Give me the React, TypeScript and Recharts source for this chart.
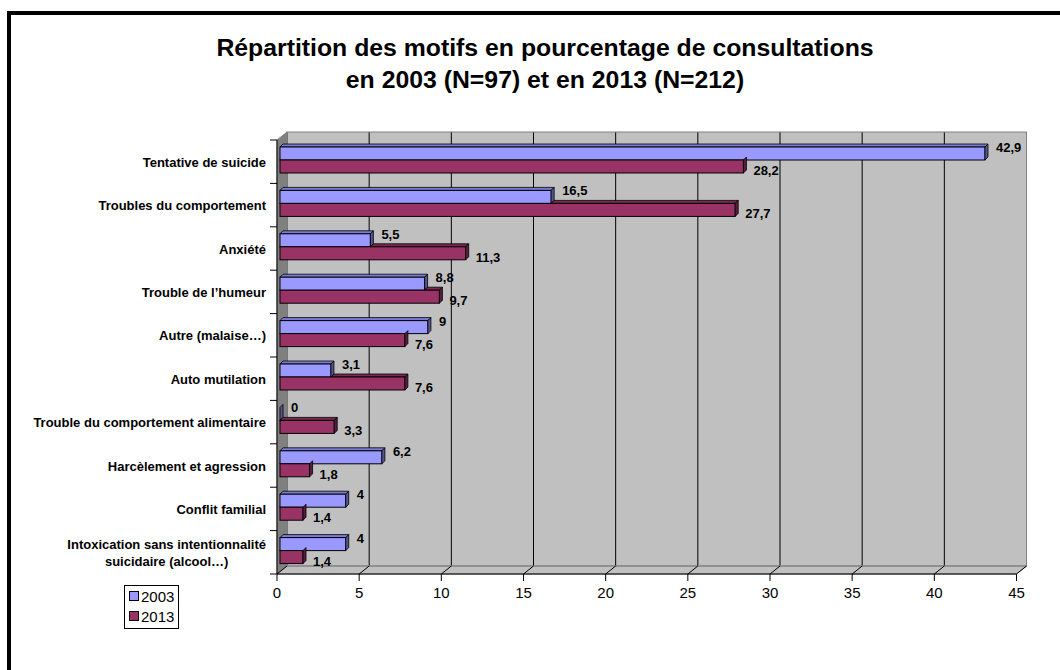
import React from "react";
import {
  BarChart,
  Bar,
  XAxis,
  YAxis,
  CartesianGrid,
  ReferenceArea,
  LabelList,
  Legend,
} from "recharts";

const categories = [
  "Tentative de suicide",
  "Troubles du comportement",
  "Anxiété",
  "Trouble de l’humeur",
  "Autre (malaise…)",
  "Auto mutilation",
  "Trouble du comportement alimentaire",
  "Harcèlement et agression",
  "Conflit familial",
  "Intoxication sans intentionnalité suicidaire (alcool…)",
];
const pct2003 = [42.9, 16.5, 5.5, 8.8, 9, 3.1, 0, 6.2, 4, 4];
const pct2013 = [28.2, 27.7, 11.3, 9.7, 7.6, 7.6, 3.3, 1.8, 1.4, 1.4];
const xTicks = [0, 5, 10, 15, 20, 25, 30, 35, 40, 45];
const seriesNames = ["2003", "2013"];

const data = categories.map((name, i) => ({
  name,
  y2003: pct2003[i],
  y2013: pct2013[i],
}));

const FONT = '"Liberation Sans", Arial, Helvetica, sans-serif';
const COLORS = ["#9999FF", "#993366"];
const TOPS = ["#7c7cd6", "#7a2952"];
const SIDES = ["#55558f", "#5a1e3c"];

// depth of the walls (back wall -> front axis)
const DX = 10;
const DY = 8;
// bars sit a bit in front of the back wall
const BAR_DX = -7;
const BAR_DY = 6;
const BAR_D = 3;

// simple greedy wrap by character count
const wrapLabel = (s: string, maxChars = 36) => {
  const lines: string[] = [];
  let cur = "";
  s.split(" ").forEach((word) => {
    const next = cur ? cur + " " + word : word;
    if (next.length > maxChars && cur) {
      lines.push(cur);
      cur = word;
    } else {
      cur = next;
    }
  });
  if (cur) lines.push(cur);
  return lines;
};

let measureCtx: CanvasRenderingContext2D | null = null;
const textWidth = (s: string) => {
  if (!measureCtx) {
    measureCtx = document.createElement("canvas").getContext("2d");
  }
  if (!measureCtx) return s.length * 6.5;
  measureCtx.font = `bold 13px ${FONT}`;
  return measureCtx.measureText(s).width;
};

const make3DBar = (idx: number) => (props: any) => {
  const { x, y, width, height, payload } = props;
  const w = Math.max(width || 0, 0);
  const h = height || 0;
  const fx = x + BAR_DX;
  const fy = y + BAR_DY;
  let start = fx;
  if (idx === 1) {
    // top face of the lower bar is hidden under the upper bar
    const own = payload.y2013;
    const other = payload.y2003;
    start = own > 0 ? fx + w * Math.min(1, other / own) : fx;
  }
  return (
    <g>
      {start < fx + w && (
        <polygon
          points={`${start},${fy} ${start + BAR_D},${fy - BAR_D} ${fx + w + BAR_D},${fy - BAR_D} ${fx + w},${fy}`}
          fill={TOPS[idx]}
          stroke="#000"
          strokeWidth={0.8}
        />
      )}
      <rect x={fx} y={fy} width={w} height={h} fill={COLORS[idx]} stroke="#000" strokeWidth={1} />
      <polygon
        points={`${fx + w},${fy} ${fx + w + BAR_D},${fy - BAR_D} ${fx + w + BAR_D},${fy + h - BAR_D} ${fx + w},${fy + h}`}
        fill={SIDES[idx]}
        stroke="#000"
        strokeWidth={0.8}
      />
    </g>
  );
};

const makeLabel = (dx: number, dy: number) => (props: any) => {
  const { x, y, width, height, value } = props;
  const tx = x + BAR_DX + (width || 0) + dx;
  const ty = y + BAR_DY + height / 2 + dy;
  return (
    <text
      x={tx}
      y={ty}
      dominantBaseline="central"
      fontSize={13}
      fontWeight="bold"
      fontFamily={FONT}
      fill="#000"
    >
      {String(value).replace(".", ",")}
    </text>
  );
};

const renderWalls = (props: any) => {
  const { x, y, width: w, height: h } = props;
  const n = categories.length;
  return (
    <g>
      {/* side wall */}
      <polygon
        points={`${x - DX},${y + DY} ${x},${y} ${x},${y + h} ${x - DX},${y + h + DY}`}
        fill="#808080"
        stroke="#808080"
      />
      {/* floor */}
      <polygon
        points={`${x - DX},${y + h + DY} ${x},${y + h} ${x + w},${y + h} ${x + w - DX},${y + h + DY}`}
        fill="#C0C0C0"
        stroke="#808080"
      />
      <rect x={x} y={y} width={w} height={h} fill="none" stroke="#808080" />
      {/* axes */}
      <line x1={x - DX} y1={y + DY} x2={x - DX} y2={y + h + DY} stroke="#000" />
      <line x1={x - DX} y1={y + h + DY} x2={x + w - DX} y2={y + h + DY} stroke="#000" />
      {Array.from({ length: n + 1 }).map((_, i) => {
        const yy = y + DY + (i * h) / n;
        return <line key={i} x1={x - DX - 7} y1={yy} x2={x - DX} y2={yy} stroke="#000" />;
      })}
    </g>
  );
};

const renderXTick = (props: any) => {
  const { x, y, payload } = props;
  return (
    <g>
      <line x1={x} y1={y} x2={x - DX} y2={y + DY} stroke="#000" />
      <line x1={x - DX} y1={y + DY} x2={x - DX} y2={y + DY + 7} stroke="#000" />
      <text
        x={x - DX}
        y={y + 32}
        textAnchor="middle"
        fontSize={15}
        fontFamily={FONT}
        fill="#000"
      >
        {payload.value}
      </text>
    </g>
  );
};

const renderYTick = (props: any) => {
  const { x, y, payload } = props;
  const lines = wrapLabel(String(payload.value));
  const lh = 17;
  const right = x - 21;
  const y0 = y + DY - ((lines.length - 1) * lh) / 2;
  // wrapped labels are centred as a block, right-aligned to the axis
  const blockW = Math.max(...lines.map(textWidth));
  const single = lines.length === 1;
  const cx = single ? right : right - blockW / 2;
  return (
    <text
      textAnchor={single ? "end" : "middle"}
      dominantBaseline="central"
      fontSize={13}
      fontWeight="bold"
      fontFamily={FONT}
      fill="#000"
    >
      {lines.map((l, i) => (
        <tspan key={i} x={cx} y={y0 + i * lh}>
          {l}
        </tspan>
      ))}
    </text>
  );
};

const renderLegend = () => (
  <div
    style={{
      border: "1px solid #000",
      background: "#fff",
      padding: "0 4px 2px 4px",
      fontFamily: FONT,
      fontSize: 15,
      color: "#000",
    }}
  >
    {seriesNames.map((s, i) => (
      <div key={s} style={{ display: "flex", alignItems: "center", height: 20 }}>
        <span
          style={{
            display: "inline-block",
            width: 8,
            height: 8,
            border: "1px solid #000",
            background: COLORS[i],
            marginRight: 2,
          }}
        />
        {s}
      </div>
    ))}
  </div>
);

export default function App() {
  return (
    <div
      style={{
        position: "fixed",
        left: 0,
        top: 0,
        width: 1060,
        height: 670,
        overflow: "hidden",
        background: "#fff",
        fontFamily: FONT,
      }}
    >
      <div
        style={{
          position: "absolute",
          left: 7,
          top: 11,
          width: 1100,
          height: 700,
          border: "4px solid #000",
          boxSizing: "border-box",
        }}
      />
      <div
        style={{
          position: "absolute",
          left: 0,
          top: 32,
          width: 1090,
          textAlign: "center",
          fontSize: 24.8,
          fontWeight: "bold",
          lineHeight: "32px",
          color: "#000",
        }}
      >
        Répartition des motifs en pourcentage de consultations
        <br />
        en 2003 (N=97) et en 2013 (N=212)
      </div>
      <div style={{ position: "absolute", left: 0, top: 0 }}>
        <BarChart
          width={1060}
          height={670}
          layout="vertical"
          data={data}
          margin={{ top: 132, right: 33.5, bottom: 74, left: 7 }}
          barSize={13}
          barGap={0}
        >
          <CartesianGrid horizontal={false} stroke="#000" fill="#C0C0C0" fillOpacity={1} />
          <ReferenceArea x1={0} x2={45} ifOverflow="visible" shape={renderWalls} />
          <XAxis
            type="number"
            domain={[0, 45]}
            ticks={xTicks}
            interval={0}
            height={30}
            tickSize={0}
            tickMargin={0}
            axisLine={false}
            tickLine={false}
            tick={renderXTick}
          />
          <YAxis
            type="category"
            dataKey="name"
            width={280}
            interval={0}
            tickSize={0}
            tickMargin={0}
            axisLine={false}
            tickLine={false}
            tick={renderYTick}
          />
          <Legend
            layout="vertical"
            align="center"
            verticalAlign="middle"
            wrapperStyle={{ left: 124, top: 585, width: "auto" }}
            content={renderLegend}
          />
          <Bar dataKey="y2003" name="2003" fill={COLORS[0]} shape={make3DBar(0)} isAnimationActive={false}>
            <LabelList dataKey="y2003" content={makeLabel(11, -6)} />
          </Bar>
          <Bar dataKey="y2013" name="2013" fill={COLORS[1]} shape={make3DBar(1)} isAnimationActive={false}>
            <LabelList dataKey="y2013" content={makeLabel(10, 4)} />
          </Bar>
        </BarChart>
      </div>
    </div>
  );
}
